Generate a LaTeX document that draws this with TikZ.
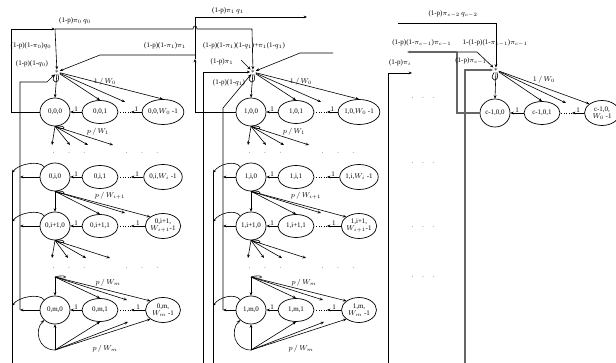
\documentclass[tikz,border=0pt]{standalone}
\usepackage{fontspec}
\setmainfont{Liberation Serif}
\usetikzlibrary{shapes.geometric, arrows.meta, calc}
\tikzset{
  % chain states
  state/.style={ellipse, draw, line width=0.7pt, inner sep=0pt,
    minimum width=#1, minimum height=25pt, align=center,
    font=\fontsize{7}{7}\selectfont},
  state/.default=35pt,
  entry/.style={inner sep=0.6pt, font=\fontsize{7.5}{7.5}\selectfont},
  % connectors
  arr/.style={-{Stealth[length=3.4pt,width=2.8pt]}, line width=0.6pt},
  link/.style={line width=0.6pt},
  greylink/.style={line width=1.1pt, draw=black!60},
  % labels
  lbl/.style={font=\fontsize{7}{7}\selectfont, inner sep=0.5pt},
  rowdots/.style={font=\fontsize{7.5}{7.5}\selectfont, inner sep=0pt},
}
\newcommand{\dotrow}{$\cdot$\hspace{13pt}$\cdot$\hspace{13pt}$\cdot$}
\newcommand{\dotcol}{$\cdot$\hspace{8pt}$\cdot$\hspace{8pt}$\cdot$}

\begin{document}
\begin{tikzpicture}[x=1pt, y=-1pt]
\useasboundingbox (0,0) rectangle (616,363);

% channels 0 and 1: every backoff stage
\foreach \c/\dx/\la/\lb in {0/0/12/20, 1/196/17/27} {
  \begin{scope}[xshift=\dx pt]
    \node[entry] (s\c) at (57,72) {$*$};
    \coordinate (la\c) at (\la,0);
    \coordinate (lb\c) at (\lb,0);
    \foreach \r/\y/\rt/\wt in {0/112/0/{$W_0$ -1}, i/177/i/{$W_i$ -1},
        j/226/i+1/{\\$W_{i+1}$-1}, m/310/m/{\\$W_m$ -1}} {
      \node[state=30pt, minimum height=28pt] (\c-\r-0) at (55,\y) {\c,\rt,0};
      \node[state=36pt, minimum height=23pt] (\c-\r-1) at (100,\y) {\c,\rt,1};
      \node[state] (\c-\r-w) at (163,\y) {\c,\rt,\wt};
      \coordinate (\c-\r-d) at (131,\y);
      \draw[arr] (\c-\r-1) -- node[lbl, above]{1} (\c-\r-0);
      \draw[arr] (\c-\r-w) -- node[lbl, above]{1} (\c-\r-d);
      \draw[dotted, line width=0.6pt] (\c-\r-d) -- (\c-\r-1);
    }

    % entry fan
    \coordinate (\c-0-t) at (125,102);
    \foreach \tg in {\c-0-0.north, \c-0-1.north, \c-0-t, \c-0-w.north}
      \draw[arr] (s\c) -- (\tg);
    \draw[link] (s\c) .. controls +(-9,12) and +(5,13) .. (s\c);
    \node[lbl] at (105,82) {$1\,/\,W_0$};

    % stage 0 towards the next stages
    \foreach \ex [count=\k] in {52,70,88,113} {
      \coordinate (\c-0-e\k) at (\ex,145);
      \draw[arr] (\c-0-0.south) -- (\c-0-e\k);
    }
    \draw[link] (\c-0-0.south) .. controls +(12,6) and +(12,-2) .. (\c-0-0.south);
    \node[lbl] at (98,132) {$p\,/\,W_1$};
    \node[rowdots] at (69,153) {\dotrow};
    \node[rowdots] at (142,153) {\dotrow};

    % stage i to stage i+1
    \coordinate (\c-j-t) at (125,213);
    \foreach \tg in {\c-j-0.north, \c-j-1.north, \c-j-t, \c-j-w.north west}
      \draw[arr] (\c-i-0.south) -- (\tg);
    \draw[link] (\c-i-0.south) .. controls +(12,6) and +(12,-2) .. (\c-i-0.south);
    \node[lbl] at (110,196) {$p\,/\,W_{i+1}$};

    % stage i+1 onwards
    \foreach \ex [count=\k] in {52,68,86,110} {
      \coordinate (\c-j-e\k) at (\ex,258);
      \draw[arr] (\c-j-0.south) -- (\c-j-e\k);
    }
    \draw[link] (\c-j-0.south) .. controls +(12,6) and +(12,-2) .. (\c-j-0.south);
    \node[rowdots] at (69,268) {\dotrow};
    \node[rowdots] at (142,268) {\dotrow};

    % into stage m
    \coordinate (\c-m-a) at (55,277);
    \coordinate (\c-m-t) at (127,300);
    \foreach \tg in {\c-m-0.north, \c-m-1.north, \c-m-t, \c-m-w.north west}
      \draw[arr] (\c-m-a) -- (\tg);
    \draw[link] (\c-m-a) .. controls +(14,-4) and +(14,4) .. (\c-m-a);
    \node[lbl] at (108,283) {$p\,/\,W_m$};

    % stage m again
    \coordinate (\c-m-b) at (55,350);
    \coordinate (\c-m-u) at (128,322);
    \foreach \tg in {\c-m-0.south, \c-m-1.south, \c-m-u, \c-m-w.south west}
      \draw[arr] (\c-m-b) -- (\tg);
    \draw[arr] (\c-m-b) .. controls (38,350) and (34,330) .. (\c-m-0.south west);
    \node[lbl] at (105,349) {$p\,/\,W_m$};

    % leaving the stages
    \foreach \r in {i,j,m} {
      \draw[arr] (\c-\r-0.west) -- (\c-\r-0.west -| lb\c);
      \draw[arr] (\c-\r-0.north west) .. controls +(-5,-7) and +(6,-9)
        .. ($(\c-\r-0.west -| la\c)+(0,-4)$);
    }
    \draw[link] (\la,172) -- (\la,363);
  \end{scope}
}

% channel c-1: first stage
\begin{scope}[xshift=439pt]
  \node[entry] (s2) at (57,70) {$*$};
  \node[state=30pt, minimum height=28pt] (c-0-0) at (56,113) {c-1,0,0};
  \node[state=36pt, minimum height=23pt] (c-0-1) at (103,113) {c-1,0,1};
  \node[state] (c-0-w) at (163,113) {c-1,0,\\$W_0$ -1};
  \coordinate (c-0-d) at (133,113);
  \draw[arr] (c-0-1) -- node[lbl, above]{1} (c-0-0);
  \draw[arr] (c-0-w) -- node[lbl, above]{1} (c-0-d);
  \draw[dotted, line width=0.6pt] (c-0-d) -- (c-0-1);
  \coordinate (c-0-t) at (127,103);
  \foreach \tg in {c-0-0.north, c-0-1.north, c-0-t, c-0-w.north west}
    \draw[arr] (s2) -- (\tg);
  \draw[link] (s2) .. controls +(-9,12) and +(5,13) .. (s2);
  \node[lbl] at (105,80) {$1\,/\,W_0$};
\end{scope}

% channel 0 links
\coordinate (t0) at (55,29);
\draw[arr] (0-0-0.west) -| (11,29) -- (t0);
\draw[arr] (t0) -- (s0);
\draw[arr] (t0) -- (193,29) .. controls (193,25) and (197,25) .. (197,29)
  -- (252,29) -- (s1);
\draw[arr] (20,310) |- (47,82) -- (s0);
\node[lbl] at (75,21) {(1-p)$\pi_0\,q_0$};
\node[lbl] at (31,46) {(1-p)(1-$\pi_0$)$q_0$};
\node[lbl] at (32,64) {(1-p)(1-$q_0$)};

% channel 1 links
\coordinate (u1) at (195,55);
\coordinate (v1) at (195,59);
\draw[arr] (1-0-0.west) -| (v1);
\draw[arr] (v1) -- (195,17) -- (307,17);
\draw[arr] (u1) -- (100,55) -- (s0);
\draw[arr] (203,363) |- (s1);
\draw[arr] (223,310) -- (223,108) -- (s1);
\coordinate (k1) at (241,60);
\draw[arr] (k1) -- (s1);
\coordinate (r1) at (333,53);
\draw[arr] (r1) -- (300,53) -- (s1);
\node[lbl] at (228,11) {(1-p)$\pi_1\,q_1$};
\node[lbl] at (165,46) {(1-p)(1-$\pi_1$)$\pi_1$};
\node[lbl] at (244,46) {(1-p)(1-$\pi_1$)(1-$q_1$)+$\pi_1$(1-$q_1$)};
\node[lbl] at (222,62) {(1-p)$\pi_1$};
\node[lbl] at (229,83) {(1-p)(1-$q_1$)};

% channels between
\draw[arr] (388,363) |- (412,73);
\node[lbl] at (400,63) {(1-p)$\pi_i$};
\foreach \yy in {98,163,227,277}
  \node[rowdots] at (423,\yy) {\dotcol};

% channel c-1 links
\coordinate (w2) at (457,52);
\draw[greylink] (c-0-0.west) -| (w2);
\draw[arr, greylink] (w2) -- (407,52);
\draw[arr] (w2) -- (477,52) -- (s2);
\coordinate (h2) at (398,23);
\draw[arr] (h2) -- (496,23) -- (s2);
\draw[arr, greylink] (465,363) |- (s2);
\node[lbl] at (453,14) {(1-p)$\pi_{c-2}\,q_{c-2}$};
\node[lbl, anchor=east] at (452,43) {(1-p)(1-$\pi_{c-1}$)$\pi_{c-1}$};
\node[lbl, anchor=west] at (462,43) {1-(1-p)(1-$\pi_{c-1}$)$\pi_{c-1}$};
\node[lbl] at (471,61) {(1-p)$\pi_{c-1}$};

\end{tikzpicture}
\end{document}
